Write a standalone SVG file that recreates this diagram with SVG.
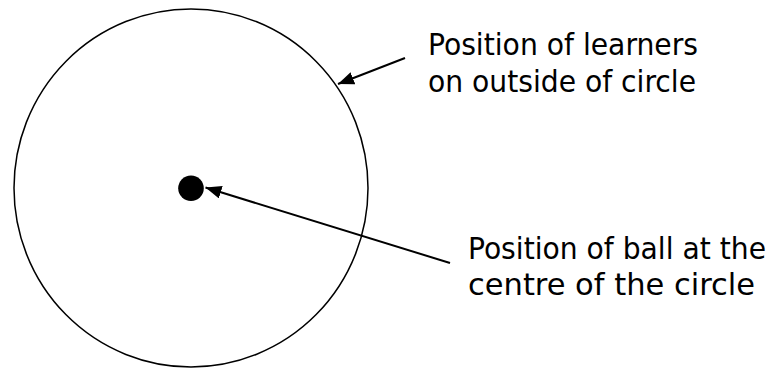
<svg xmlns="http://www.w3.org/2000/svg" width="771" height="372" viewBox="0 0 771 372">
<style>
.lbl{font-family:"DejaVu Sans Condensed","DejaVu Sans","Liberation Sans",sans-serif;font-size:30px;fill:#000}
.conn{stroke:#000;stroke-width:2;fill:none}
</style>
<defs>
<marker id="ah" markerUnits="userSpaceOnUse" markerWidth="18" markerHeight="14" refX="16" refY="6.5" orient="auto">
<path d="M0,0 L16,6.5 L0,13 Z" fill="#000"/>
</marker>
</defs>
<rect width="771" height="372" fill="#fff"/>
<g id="circle">
<ellipse cx="191" cy="188" rx="177" ry="179" fill="none" stroke="#000" stroke-width="1.5"/>
</g>
<g id="ball">
<circle cx="191" cy="188.3" r="12.8" fill="#000"/>
</g>
<g id="label-learners">
<text class="lbl" x="428" y="55" textLength="270" lengthAdjust="spacingAndGlyphs">Position of learners</text>
<text class="lbl" x="428" y="91.5" textLength="268" lengthAdjust="spacingAndGlyphs">on outside of circle</text>
</g>
<g id="label-ball">
<text class="lbl" x="468" y="259" textLength="298" lengthAdjust="spacingAndGlyphs">Position of ball at the</text>
<text class="lbl" x="468" y="295" textLength="287" lengthAdjust="spacingAndGlyphs">centre of the circle</text>
</g>
<g id="connectors">
<line class="conn" x1="405" y1="58" x2="338" y2="84" marker-end="url(#ah)"/>
<line class="conn" x1="450" y1="263" x2="205.5" y2="187.5" marker-end="url(#ah)"/>
</g>
</svg>
